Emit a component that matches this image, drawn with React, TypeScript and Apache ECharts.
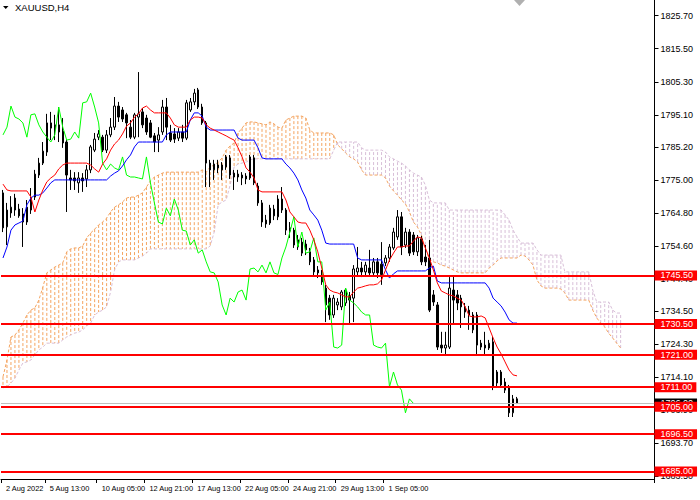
import { useEffect, useRef } from "react";
import * as echarts from "echarts";

// XAUUSD H4 candles, one value per bar
const open = [
  1771.0, 1760.5, 1764.8, 1769.4, 1766.0, 1764.5, 1762.0, 1765.7, 1769.7, 1776.5,
  1780.2, 1783.6, 1792.6, 1790.4, 1789.8, 1790.1, 1786.7, 1775.6, 1775.6, 1774.1,
  1775.6, 1775.3, 1778.1, 1784.2, 1788.2, 1788.2, 1784.2, 1788.9, 1791.3, 1797.8,
  1796.6, 1795.1, 1791.3, 1788.2, 1794.4, 1796.0, 1794.1, 1792.6, 1788.6, 1787.3,
  1789.8, 1797.5, 1789.5, 1789.2, 1787.9, 1789.8, 1787.9, 1796.6, 1799.1, 1802.8,
  1797.5, 1792.6, 1780.2, 1778.1, 1779.6, 1779.6, 1779.0, 1781.8, 1777.1, 1776.8,
  1776.5, 1776.2, 1775.6, 1781.8, 1773.1, 1767.9, 1762.6, 1761.7, 1766.0, 1763.6,
  1769.1, 1765.7, 1760.2, 1759.5, 1754.3, 1755.8, 1755.2, 1752.8, 1750.3, 1747.2,
  1745.6, 1741.6, 1738.5, 1733.3, 1736.4, 1735.8, 1737.0, 1739.2, 1738.5, 1746.6,
  1747.8, 1746.6, 1747.8, 1746.3, 1749.7, 1749.0, 1749.4, 1750.9, 1754.0, 1757.4,
  1763.6, 1754.9, 1758.9, 1758.0, 1752.8, 1756.8, 1751.2, 1750.9, 1739.5, 1736.4,
  1724.0, 1723.1, 1723.4, 1741.0, 1739.5, 1738.5, 1735.8, 1734.8, 1728.7, 1733.3,
  1724.6, 1724.0, 1723.1, 1725.0, 1712.3, 1715.7, 1712.6, 1710.8, 1703.1, 1707.4,
];
const close = [
  1760.2, 1765.7, 1766.6, 1765.7, 1763.9, 1762.0, 1766.6, 1769.7, 1776.8, 1780.2,
  1783.9, 1792.6, 1791.0, 1792.0, 1792.0, 1786.4, 1776.5, 1775.0, 1774.7, 1775.6,
  1774.7, 1778.1, 1785.2, 1787.6, 1789.2, 1784.2, 1788.9, 1791.3, 1797.8, 1794.4,
  1793.8, 1792.6, 1788.2, 1795.1, 1795.4, 1792.0, 1789.8, 1788.2, 1786.7, 1788.9,
  1797.5, 1791.3, 1787.3, 1787.6, 1789.8, 1787.9, 1798.8, 1799.1, 1801.8, 1797.5,
  1792.6, 1780.2, 1778.1, 1779.9, 1778.7, 1778.1, 1782.1, 1776.5, 1775.9, 1775.9,
  1775.6, 1775.3, 1782.1, 1774.1, 1767.9, 1762.0, 1761.4, 1766.3, 1763.9, 1769.1,
  1765.7, 1759.5, 1759.2, 1754.9, 1756.5, 1752.4, 1753.4, 1749.7, 1746.6, 1746.3,
  1743.5, 1736.4, 1733.3, 1738.5, 1737.3, 1740.4, 1741.0, 1737.9, 1747.5, 1747.8,
  1746.6, 1748.7, 1746.3, 1749.7, 1746.3, 1745.8, 1750.9, 1754.3, 1758.9, 1763.6,
  1754.3, 1758.9, 1752.4, 1752.8, 1757.1, 1749.7, 1749.7, 1734.8, 1737.3, 1723.4,
  1723.1, 1724.0, 1741.6, 1737.9, 1737.0, 1735.8, 1734.2, 1733.3, 1733.3, 1724.0,
  1723.4, 1723.1, 1724.6, 1711.1, 1715.7, 1711.7, 1710.1, 1703.1, 1707.4, 1706.0,
];
const low = [
  1758.9, 1754.9, 1763.3, 1763.9, 1763.3, 1754.3, 1761.1, 1764.5, 1768.8, 1775.6,
  1779.6, 1782.4, 1787.3, 1787.3, 1786.7, 1784.9, 1765.1, 1771.9, 1771.9, 1771.0,
  1771.3, 1772.8, 1777.1, 1783.6, 1787.3, 1783.6, 1783.3, 1788.2, 1790.4, 1792.9,
  1792.9, 1787.9, 1787.6, 1787.6, 1788.2, 1791.0, 1788.9, 1787.9, 1783.6, 1783.6,
  1788.9, 1787.3, 1786.7, 1786.4, 1787.0, 1786.7, 1787.3, 1796.0, 1798.1, 1796.9,
  1792.0, 1772.8, 1772.8, 1775.0, 1777.1, 1775.0, 1778.1, 1775.3, 1771.9, 1774.4,
  1773.4, 1773.7, 1775.0, 1773.4, 1767.0, 1760.5, 1760.2, 1761.1, 1762.6, 1762.6,
  1764.8, 1758.0, 1757.1, 1754.0, 1753.4, 1751.5, 1751.8, 1748.7, 1745.6, 1744.7,
  1742.6, 1731.1, 1731.8, 1732.4, 1734.8, 1734.8, 1736.1, 1730.8, 1731.1, 1745.6,
  1745.0, 1745.6, 1745.3, 1745.3, 1744.7, 1742.6, 1748.4, 1749.7, 1753.4, 1756.5,
  1751.8, 1754.0, 1751.5, 1751.8, 1751.5, 1748.7, 1748.4, 1734.2, 1736.1, 1722.5,
  1721.6, 1721.0, 1722.8, 1730.8, 1734.8, 1729.3, 1732.4, 1728.7, 1727.7, 1721.0,
  1722.5, 1721.0, 1722.5, 1710.1, 1711.1, 1710.8, 1709.2, 1701.8, 1701.8, 1705.8,
];
const high = [
  1771.9, 1767.9, 1770.0, 1770.7, 1767.6, 1766.3, 1768.8, 1772.5, 1778.1, 1781.8,
  1786.7, 1795.4, 1796.0, 1795.1, 1797.5, 1794.1, 1787.3, 1778.1, 1777.4, 1777.4,
  1777.1, 1779.6, 1785.8, 1789.5, 1790.4, 1788.9, 1790.4, 1794.1, 1800.6, 1799.1,
  1797.5, 1795.7, 1793.5, 1795.7, 1808.3, 1797.2, 1795.1, 1793.5, 1789.5, 1791.3,
  1799.7, 1800.3, 1792.0, 1791.0, 1791.0, 1792.0, 1799.7, 1800.3, 1803.1, 1803.4,
  1798.5, 1793.2, 1781.2, 1781.2, 1781.2, 1780.5, 1782.7, 1782.7, 1778.1, 1778.1,
  1777.4, 1777.1, 1782.7, 1782.7, 1774.1, 1768.8, 1764.2, 1767.3, 1767.3, 1770.3,
  1772.8, 1766.3, 1762.0, 1760.2, 1758.0, 1757.1, 1756.5, 1754.0, 1751.2, 1748.4,
  1747.2, 1742.6, 1739.5, 1739.5, 1738.5, 1741.0, 1741.6, 1740.4, 1748.7, 1754.3,
  1749.7, 1749.7, 1753.4, 1750.9, 1750.9, 1755.8, 1751.8, 1755.2, 1760.2, 1765.7,
  1765.1, 1760.2, 1759.8, 1758.9, 1758.0, 1757.7, 1754.9, 1756.5, 1741.0, 1737.3,
  1728.1, 1728.1, 1745.0, 1745.6, 1741.0, 1739.5, 1737.0, 1736.1, 1734.2, 1734.2,
  1725.6, 1728.1, 1725.6, 1726.5, 1716.3, 1716.3, 1713.8, 1711.7, 1708.6, 1708.0,
];

// Ichimoku lines
const tenkan = [
  1773.7, 1771.9, 1771.6, 1771.6, 1771.6, 1771.6, 1771.6, 1769.7, 1765.1, 1768.8,
  1771.9, 1774.4, 1775.6, 1776.5, 1778.4, 1779.6, 1780.2, 1780.2, 1780.2, 1780.2,
  1780.2, 1780.2, 1779.6, 1778.4, 1777.4, 1779.9, 1781.5, 1784.2, 1786.1, 1787.3,
  1789.2, 1791.6, 1792.6, 1794.4, 1795.4, 1797.2, 1797.8, 1796.6, 1795.7, 1795.7,
  1795.7, 1795.7, 1794.1, 1792.0, 1791.3, 1791.3, 1791.3, 1793.5, 1794.4, 1794.4,
  1794.1, 1792.0, 1791.0, 1790.4, 1789.8, 1789.2, 1788.6, 1787.9, 1787.3, 1784.9,
  1782.1, 1778.7, 1777.4, 1775.6, 1771.9, 1771.3, 1771.3, 1771.3, 1771.3, 1771.3,
  1771.3, 1768.8, 1765.1, 1763.6, 1762.0, 1761.7, 1761.7, 1759.5, 1756.5, 1752.8,
  1747.8, 1742.6, 1741.0, 1740.4, 1740.1, 1739.5, 1738.9, 1738.9, 1740.4, 1741.6,
  1741.9, 1742.3, 1742.6, 1742.6, 1742.9, 1744.1, 1747.2, 1750.3, 1752.4, 1754.3,
  1754.3, 1754.6, 1754.6, 1756.1, 1757.4, 1757.1, 1754.0, 1750.9, 1747.2, 1743.2,
  1740.7, 1740.1, 1739.5, 1739.2, 1738.5, 1737.9, 1735.8, 1733.0, 1732.7, 1732.7,
  1733.0, 1732.4, 1729.3, 1726.2, 1723.4, 1721.3, 1718.8, 1716.3, 1714.8, 1714.5,
];
const kijun = [
  1750.9, 1754.3, 1759.5, 1761.1, 1761.7, 1762.3, 1767.3, 1769.4, 1770.3, 1770.3,
  1771.0, 1772.5, 1774.1, 1775.0, 1775.0, 1775.0, 1775.0, 1775.0, 1775.0, 1775.0,
  1775.0, 1775.0, 1775.0, 1775.0, 1775.0, 1775.0, 1775.0, 1776.2, 1777.1, 1777.8,
  1779.3, 1781.2, 1782.7, 1785.2, 1786.7, 1786.7, 1786.7, 1786.7, 1786.7, 1786.7,
  1786.7, 1788.9, 1789.8, 1789.8, 1789.8, 1789.8, 1789.8, 1793.5, 1795.7, 1795.7,
  1794.7, 1791.3, 1790.4, 1790.4, 1790.4, 1790.4, 1790.4, 1790.4, 1790.4, 1787.9,
  1787.3, 1787.3, 1787.3, 1787.3, 1784.9, 1781.8, 1781.5, 1781.5, 1781.5, 1781.5,
  1781.5, 1779.9, 1778.7, 1777.1, 1775.0, 1771.9, 1769.4, 1765.7, 1764.2, 1762.6,
  1759.5, 1755.5, 1755.2, 1755.2, 1755.2, 1755.2, 1755.2, 1755.2, 1755.2, 1750.9,
  1750.3, 1750.3, 1750.3, 1750.3, 1750.3, 1750.3, 1747.2, 1744.7, 1746.0, 1746.9,
  1746.9, 1746.9, 1746.9, 1746.9, 1746.9, 1746.9, 1746.9, 1747.8, 1748.4, 1743.8,
  1743.2, 1743.2, 1743.2, 1743.2, 1743.2, 1743.2, 1743.2, 1743.2, 1743.2, 1743.2,
  1743.2, 1743.2, 1741.6, 1738.5, 1737.3, 1736.1, 1734.2, 1731.8, 1730.8, 1730.8,
];
// cloud borders, drawn 26 bars ahead of the last candle
const spanA = [
  1714.2, 1719.4, 1726.5, 1727.1, 1728.7, 1730.8, 1733.3, 1734.8, 1735.5, 1737.9,
  1741.9, 1746.3, 1747.2, 1748.1, 1748.7, 1749.4, 1752.8, 1753.7, 1754.0, 1754.0,
  1754.6, 1757.1, 1758.6, 1759.8, 1761.1, 1762.0, 1763.2, 1765.1, 1766.6, 1767.3,
  1768.2, 1769.4, 1769.7, 1769.7, 1770.3, 1771.0, 1772.8, 1774.7, 1775.9, 1776.5,
  1777.1, 1777.4, 1777.4, 1777.4, 1777.4, 1777.4, 1777.4, 1777.4, 1777.4, 1777.4,
  1778.1, 1777.4, 1779.0, 1779.6, 1780.5, 1781.8, 1784.2, 1785.5, 1786.4, 1789.5,
  1791.0, 1792.6, 1792.9, 1792.9, 1792.6, 1792.3, 1792.0, 1792.9, 1792.3, 1791.3,
  1791.0, 1793.5, 1794.1, 1794.7, 1794.7, 1794.7, 1794.1, 1790.4, 1789.5, 1789.5,
  1789.5, 1789.5, 1789.5, 1788.9, 1785.8, 1784.6, 1783.3, 1782.1, 1781.5, 1780.5,
  1778.1, 1776.5, 1776.5, 1776.5, 1776.5, 1776.5, 1775.6, 1773.1, 1771.6, 1770.3,
  1768.8, 1767.6, 1765.1, 1762.0, 1760.5, 1758.0, 1753.4, 1750.6, 1749.7, 1749.4,
  1748.7, 1748.4, 1747.8, 1747.2, 1746.6, 1746.3, 1746.3, 1746.3, 1746.3, 1746.3,
  1746.3, 1746.3, 1747.8, 1748.7, 1750.0, 1750.9, 1750.9, 1750.9, 1750.9, 1750.9,
  1751.8, 1751.5, 1750.3, 1748.7, 1744.1, 1742.3, 1741.6, 1741.6, 1741.6, 1741.6,
  1741.3, 1740.1, 1737.9, 1737.9, 1737.9, 1737.9, 1737.9, 1737.9, 1734.8, 1732.4,
  1730.8, 1729.6, 1727.7, 1726.2, 1724.6, 1723.1,
];
const spanB = [
  1710.8, 1711.1, 1712.3, 1713.8, 1716.3, 1718.5, 1718.8, 1719.4, 1721.0, 1722.5,
  1723.4, 1724.6, 1724.6, 1724.6, 1724.6, 1725.6, 1726.5, 1727.1, 1727.7, 1728.0,
  1728.7, 1729.9, 1730.8, 1733.3, 1734.2, 1734.8, 1735.8, 1740.4, 1747.2, 1749.7,
  1750.3, 1750.3, 1750.3, 1750.3, 1750.9, 1751.5, 1752.4, 1753.7, 1753.7, 1753.7,
  1753.7, 1753.7, 1753.7, 1753.7, 1753.7, 1753.7, 1753.7, 1753.7, 1753.7, 1753.7,
  1753.7, 1753.7, 1754.6, 1758.9, 1767.3, 1768.2, 1768.8, 1773.4, 1779.0, 1779.9,
  1780.2, 1780.5, 1781.2, 1781.5, 1781.5, 1781.5, 1781.5, 1781.5, 1781.5, 1781.5,
  1781.5, 1781.5, 1781.5, 1781.5, 1781.5, 1781.5, 1781.5, 1781.5, 1781.5, 1781.5,
  1781.5, 1781.5, 1781.5, 1784.2, 1786.7, 1786.7, 1786.7, 1786.7, 1786.7, 1786.7,
  1784.9, 1784.2, 1784.2, 1784.2, 1784.2, 1784.2, 1783.6, 1782.1, 1781.5, 1780.8,
  1780.2, 1779.3, 1778.1, 1777.1, 1776.5, 1775.9, 1773.4, 1768.8, 1767.9, 1767.9,
  1767.9, 1767.9, 1765.7, 1765.7, 1765.7, 1765.7, 1765.7, 1765.7, 1765.7, 1765.7,
  1765.7, 1765.7, 1765.7, 1765.7, 1765.7, 1765.7, 1764.2, 1762.6, 1759.5, 1757.4,
  1755.5, 1755.5, 1755.5, 1755.5, 1753.4, 1751.8, 1751.8, 1751.8, 1751.8, 1751.8,
  1751.8, 1746.6, 1746.6, 1746.6, 1746.6, 1746.6, 1746.6, 1746.6, 1741.0, 1737.3,
  1737.3, 1737.3, 1737.3, 1734.8, 1733.9, 1733.9,
];

const levels = [1745.5, 1730.5, 1721.0, 1711.0, 1705.0, 1696.5, 1685.0];
const bidPrice = 1706.0;
const priceTicks = [
  1825.7, 1815.5, 1805.3, 1795.1, 1785.2, 1775.0, 1764.8, 1754.6,
  1744.4, 1734.5, 1724.3, 1714.1, 1703.9, 1693.7, 1683.5,
];
const dateTickBars = [0, 11, 24, 36, 48, 60, 72, 84, 96];
const dateTickLabels = [
  "2 Aug 2022", "5 Aug 13:00", "10 Aug 05:00", "12 Aug 21:00", "17 Aug 13:00",
  "22 Aug 05:00", "24 Aug 21:00", "29 Aug 13:00", "1 Sep 05:00",
];

const SLOTS = 164;
const KUMO_SHIFT = 26;
const FONT = '"Liberation Sans", Arial, sans-serif';

export default function App() {
  const chartRef = useRef<HTMLDivElement>(null);

  useEffect(() => {
    if (!chartRef.current) return;
    const chart = echarts.init(chartRef.current, null, { renderer: "svg" });

    const categories = Array.from({ length: SLOTS }, (_, i) => String(i));
    const candles = open.map((o, i) => [o, close[i], low[i], high[i]]);
    // chikou span = close plotted 26 bars back
    const chikou = close.map((_, i) => (i + KUMO_SHIFT < close.length ? close[i + KUMO_SHIFT] : "-"));
    const kumo = spanA.map((a, i) => [i, a, spanB[i]]);
    const showDate = (i: number) => dateTickBars.includes(i);

    chart.setOption({
      animation: false,
      backgroundColor: "#ffffff",
      grid: { left: -1.5, top: 0, width: 656, height: 479 },
      xAxis: {
        type: "category",
        data: categories,
        boundaryGap: true,
        axisLine: { show: true, lineStyle: { color: "#000", width: 1 } },
        axisTick: { show: true, interval: showDate, length: 4, lineStyle: { color: "#000" } },
        axisLabel: {
          interval: showDate,
          showMinLabel: true,
          showMaxLabel: true,
          formatter: (_v: string, i: number) => dateTickLabels[dateTickBars.indexOf(i)],
          align: "left",
          padding: [0, 0, 0, 3],
          margin: 5,
          color: "#000",
          fontSize: 7.4,
          lineHeight: 9,
          fontFamily: FONT,
        },
        splitLine: { show: false },
      },
      yAxis: {
        type: "value",
        position: "right",
        min: 1682.66,
        max: 1830.55,
        scale: true,
        axisLine: { show: true, lineStyle: { color: "#000", width: 1 } },
        axisTick: { show: true, length: 4, customValues: priceTicks, lineStyle: { color: "#000" } },
        axisLabel: {
          customValues: priceTicks,
          formatter: (v: number) => v.toFixed(2),
          margin: 6,
          color: "#000",
          fontSize: 9,
          fontFamily: FONT,
        },
        splitLine: { show: false },
      },
      graphic: [
        { type: "polygon", shape: { points: [[3, 6], [8.5, 6], [5.75, 9]] }, style: { fill: "#000" } },
        {
          type: "text",
          x: 15,
          y: 7.5,
          style: { text: "XAUUSD,H4", fill: "#000", font: '9.5px "Liberation Sans", sans-serif', verticalAlign: "middle" },
        },
        { type: "polygon", shape: { points: [[514, 0], [525, 0], [519.5, 6]] }, style: { fill: "#b0b0b0" } },
      ],
      series: [
        {
          name: "kumo",
          type: "custom",
          z: 1,
          silent: true,
          data: kumo,
          encode: { x: 0, y: [1, 2] },
          renderItem: (_p: any, api: any) => {
            const i = api.value(0);
            const a = api.value(1);
            const b = api.value(2);
            const pa = api.coord([i, a]);
            const pb = api.coord([i, b]);
            return {
              type: "line",
              shape: { x1: pa[0], y1: pa[1], x2: pb[0], y2: pb[1] },
              style: { stroke: a >= b ? "#f4a460" : "#d8bfd8", lineWidth: 1, lineDash: [3, 2] },
            };
          },
        },
        {
          name: "Senkou A",
          type: "line",
          z: 1,
          data: spanA,
          symbol: "none",
          lineStyle: { color: "#f4a460", width: 1, type: [3, 2] },
        },
        {
          name: "Senkou B",
          type: "line",
          z: 1,
          data: spanB,
          symbol: "none",
          lineStyle: { color: "#d8bfd8", width: 1, type: [3, 2] },
        },
        {
          name: "XAUUSD",
          type: "candlestick",
          z: 2,
          data: candles,
          barWidth: 2,
          itemStyle: {
            color: "#ffffff",
            color0: "#000000",
            borderColor: "#000000",
            borderColor0: "#000000",
            borderWidth: 1,
          },
        },
        {
          name: "Chikou",
          type: "line",
          z: 3,
          data: chikou,
          symbol: "none",
          lineStyle: { color: "#00ff00", width: 1 },
        },
        {
          name: "Kijun",
          type: "line",
          z: 3,
          data: kijun,
          symbol: "none",
          lineStyle: { color: "#0000ff", width: 1 },
        },
        {
          name: "Tenkan",
          type: "line",
          z: 3,
          data: tenkan,
          symbol: "none",
          lineStyle: { color: "#ff0000", width: 1 },
        },
        {
          name: "levels",
          type: "line",
          z: 5,
          data: [],
          markLine: {
            silent: true,
            symbol: "none",
            animation: false,
            data: [
              {
                yAxis: bidPrice,
                lineStyle: { color: "#c0c0c0", width: 1, type: "solid" },
                label: { backgroundColor: "#000000" },
              },
              ...levels.map((v) => ({ yAxis: v })),
            ],
            lineStyle: { color: "#ff0000", width: 2, type: "solid" },
            label: {
              show: true,
              position: "end",
              distance: 0,
              formatter: (p: any) => Number(p.value).toFixed(2),
              color: "#ffffff",
              backgroundColor: "#ff0000",
              fontSize: 9,
              fontFamily: FONT,
              lineHeight: 10,
              padding: [0, 4, 0, 6],
            },
          },
        },
      ],
    });

    return () => {
      chart.dispose();
    };
  }, []);

  return (
    <div
      ref={chartRef}
      style={{ position: "absolute", left: 0, top: 0, width: 700, height: 500, background: "#fff" }}
    />
  );
}
